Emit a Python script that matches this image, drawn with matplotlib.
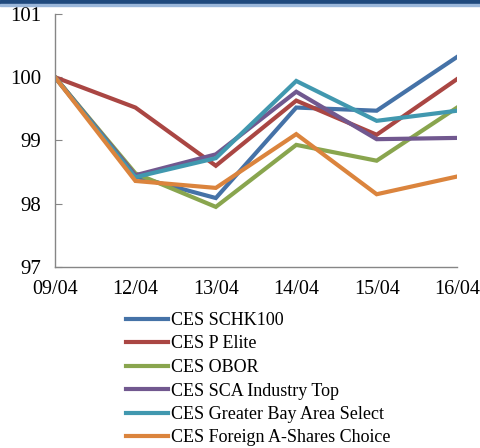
import matplotlib
matplotlib.use("Agg")
import matplotlib.pyplot as plt
from matplotlib.patches import Rectangle

# data
dates = ["09/04", "12/04", "13/04", "14/04", "15/04", "16/04"]
schk100 = [100, 98.43, 98.09, 99.52, 99.47, 100.32]
p_elite = [100, 99.52, 98.60, 99.63, 99.09, 99.97]
obor = [100, 98.48, 97.95, 98.93, 98.68, 99.52]
sca_top = [100, 98.45, 98.78, 99.77, 99.02, 99.04]
gba = [100, 98.42, 98.72, 99.94, 99.31, 99.47]
foreign_a = [100, 98.36, 98.25, 99.10, 98.15, 98.43]

names = ["CES SCHK100", "CES P Elite", "CES OBOR", "CES SCA Industry Top",
         "CES Greater Bay Area Select", "CES Foreign A-Shares Choice"]
series = [schk100, p_elite, obor, sca_top, gba, foreign_a]
colors = ["#4572A7", "#AA4643", "#89A54E", "#71588F", "#4198AF", "#DB843D"]

plt.rcParams['font.family'] = ['Liberation Serif', 'DejaVu Serif']

fig = plt.figure(figsize=(4.81, 4.48), dpi=100)
ax = fig.add_axes([0.1143, 0.404, 0.836, 0.565])

x = range(len(dates))
for vals, name, c in zip(series, names, colors):
    ax.plot(x, vals, color=c, lw=3.0, label=name, solid_joinstyle='miter')

ax.set_xlim(0, len(dates) - 1)
ax.set_ylim(97, 101)
ax.set_yticks([97, 98, 99, 100, 101])
ax.set_xticks(list(x))
ax.set_xticklabels(dates)

for s in ["top", "right"]:
    ax.spines[s].set_visible(False)
for s in ["left", "bottom"]:
    ax.spines[s].set_color("#868686")
    ax.spines[s].set_linewidth(1.0)
ax.tick_params(axis='y', direction='in', length=5, color="#868686", pad=10, labelsize=15)
ax.tick_params(axis='x', length=0, pad=9, labelsize=14.5)

# top banner
fig.patches.append(Rectangle((0, 1 - 4 / 448), 1, 4 / 448, transform=fig.transFigure,
                             color="#1F497D", zorder=5))
fig.patches.append(Rectangle((0, 1 - 6 / 448), 1, 2 / 448, transform=fig.transFigure,
                             color="#9BB7DA", zorder=5))

fig.legend(loc="upper left", bbox_to_anchor=(126 / 481, 1 - 312 / 448),
           frameon=False, handlelength=2.3, handletextpad=0.2,
           labelspacing=0.36, borderaxespad=0, borderpad=0, fontsize=13)

fig.savefig("out.png", dpi=100)
